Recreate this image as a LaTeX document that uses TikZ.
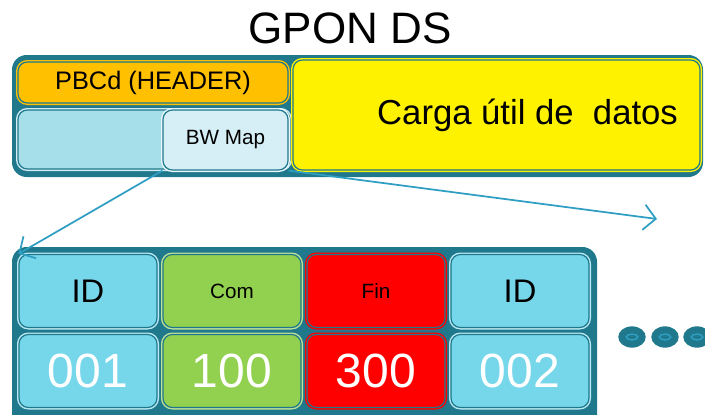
\documentclass[tikz,border=0pt]{standalone}
\usepackage{fontspec}
\setmainfont{Liberation Sans}
\usetikzlibrary{arrows.meta}

\definecolor{frameteal}{RGB}{31,120,139}
\definecolor{linkblue}{RGB}{46,158,194}
\definecolor{hdrorange}{RGB}{255,192,0}
\definecolor{mapblue}{RGB}{166,222,234}
\definecolor{bwblue}{RGB}{214,238,245}
\definecolor{idcyan}{RGB}{118,214,234}
\definecolor{comgreen}{RGB}{146,208,80}
\definecolor{fingred}{RGB}{255,0,0}

\newcommand{\sizeTitle}{\fontsize{33}{38}\selectfont}
\newcommand{\sizeBig}{\fontsize{26}{30}\selectfont}
\newcommand{\sizeHdr}{\fontsize{19}{22}\selectfont}
\newcommand{\sizeSmall}{\fontsize{15.5}{18}\selectfont}
\newcommand{\sizeId}{\fontsize{24.5}{28}\selectfont}
\newcommand{\sizeNum}{\fontsize{36}{40}\selectfont}

\begin{document}
\begin{tikzpicture}[x=0.75pt,y=-0.75pt]
\tikzstyle{cell}=[rounded corners=7pt, draw=frameteal, line width=0.9pt, inner sep=0pt]
\tikzstyle{slot}=[cell, minimum width=103.5pt, minimum height=54.75pt]
\tikzstyle{link}=[draw=linkblue, line width=1.3pt, -{Straight Barb[length=9pt,width=19pt]}]

\useasboundingbox (0,0) rectangle (705,414);

% title
\node[anchor=base] (title) at (350,43) {\sizeTitle GPON DS};

% downstream frame
\fill[frameteal, rounded corners=11pt] (12,55) rectangle (703,177);
\node[cell, fill=hdrorange, preaction={draw=hdrorange, line width=3pt},
      minimum width=202.5pt, minimum height=30.75pt] (pbcd) at (153,82.5) {\sizeHdr PBCd (HEADER)};
\node[cell, fill=mapblue, preaction={draw=mapblue!50!white, line width=3pt},
      minimum width=204pt, minimum height=44.25pt] (plend) at (154,139.5) {};
\node[cell, fill=bwblue, preaction={draw=bwblue!50!white, line width=3pt},
      minimum width=93.75pt, minimum height=45pt] (bw) at (225.5,140) {\sizeSmall BW Map};
\node[cell, fill=yellow, preaction={draw=yellow, line width=3pt},
      minimum width=305.25pt, minimum height=82.5pt] (carga) at (496.5,115)
      {\makebox[272pt][r]{\sizeBig Carga útil de\ \ datos}};

% allocation table
\fill[frameteal, rounded corners=11pt] (12,247) rectangle (597,430);
\node[slot, fill=idcyan, preaction={draw=idcyan!50!white, line width=3pt}] (id1) at (88,291) {\sizeId ID};
\node[slot, fill=comgreen, preaction={draw=comgreen!60!white, line width=3pt}] (com) at (232,291) {\sizeSmall Com};
\node[slot, fill=fingred, preaction={draw=fingred, line width=3pt}] (fin) at (376,291) {\sizeSmall Fin};
\node[slot, fill=idcyan, preaction={draw=idcyan!50!white, line width=3pt}] (id2) at (520,291) {\sizeId ID};
\node[slot, fill=idcyan, preaction={draw=idcyan!50!white, line width=3pt}, text=white] (v1) at (88,371) {\sizeNum 001};
\node[slot, fill=comgreen, preaction={draw=comgreen!60!white, line width=3pt}, text=white] (v2) at (232,371) {\sizeNum 100};
\node[slot, fill=fingred, preaction={draw=fingred, line width=3pt}, text=white] (v3) at (376,371) {\sizeNum 300};
\node[slot, fill=idcyan, preaction={draw=idcyan!50!white, line width=3pt}, text=white] (v4) at (520,371) {\sizeNum 002};

% more entries
\foreach \x in {632,665,697}{
  \fill[frameteal] (\x,337) ellipse [x radius=10.3pt, y radius=8pt];
  \draw[linkblue, line width=1.1pt] (\x,337) ellipse [x radius=4.3pt, y radius=2.2pt];
}

% bw map expansion
\coordinate (more) at (657,219);
\draw[link] (bw.south west) -- (id1.north west);
\draw[link] (bw.south east) -- (more);
\end{tikzpicture}
\end{document}
